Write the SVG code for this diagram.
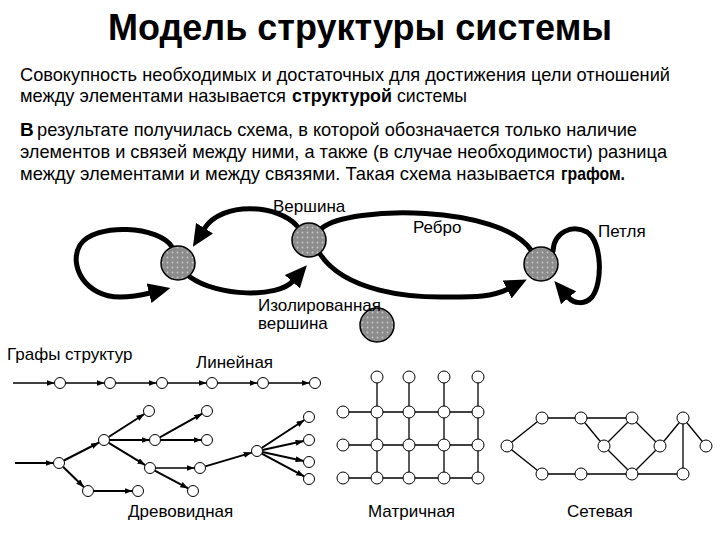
<svg xmlns="http://www.w3.org/2000/svg" width="720" height="540" viewBox="0 0 720 540">
<style>
.title{font-family:"Liberation Sans",Arial,sans-serif;font-weight:bold;font-size:36px;fill:#000}
.para{font-family:"Liberation Sans",Arial,sans-serif;font-size:19px;fill:#000}
.b{font-weight:bold}
.lbl{font-family:"Liberation Sans",Arial,sans-serif;font-size:17px;fill:#000}
.big{fill:url(#dots);stroke:#000;stroke-width:1.5}
.edge{fill:none;stroke:#000;stroke-width:5;stroke-linecap:round}
.tree{fill:none;stroke:#000;stroke-width:2}
.sm{fill:#fff;stroke:#000;stroke-width:1}
.ln{stroke:#000;stroke-width:1.3;fill:none}
</style>
<defs>
<pattern id="dots" width="5" height="5" patternUnits="userSpaceOnUse">
<rect width="5" height="5" fill="#8c8c8c"/>
<circle cx="2.5" cy="2.5" r="0.9" fill="#c8c8c8"/>
</pattern>
<marker id="bigArrow" viewBox="0 0 22 20" refX="1" refY="10" markerWidth="22" markerHeight="20" markerUnits="userSpaceOnUse" orient="auto">
<path d="M0,0 L22,10 L0,20 z" fill="#000"/>
</marker>
<marker id="smArrow" viewBox="0 0 8 6" refX="8" refY="3" markerWidth="8" markerHeight="6" markerUnits="userSpaceOnUse" orient="auto">
<path d="M0,0 L8,3 L0,6 z" fill="#000"/>
</marker>
</defs>
<rect width="720" height="540" fill="#fff"/>

<text class="title" x="360" y="40" text-anchor="middle" textLength="504" lengthAdjust="spacingAndGlyphs">Модель структуры системы</text>

<text class="para" x="20" y="81" textLength="650" lengthAdjust="spacingAndGlyphs">Совокупность необходимых и достаточных для достижения цели отношений</text>
<text class="para" x="20" y="102" textLength="266" lengthAdjust="spacingAndGlyphs">между элементами называется</text>
<text class="para b" x="292" y="102" textLength="100" lengthAdjust="spacingAndGlyphs">структурой</text>
<text class="para" x="397" y="102" textLength="70" lengthAdjust="spacingAndGlyphs">системы</text>
<text class="para b" x="20" y="136">В</text>
<text class="para" x="37" y="136" textLength="600" lengthAdjust="spacingAndGlyphs">результате получилась схема, в которой обозначается только наличие</text>
<text class="para" x="20" y="158" textLength="647" lengthAdjust="spacingAndGlyphs">элементов и связей между ними, а также (в случае необходимости) разница</text>
<text class="para" x="20" y="180" style="font-size:18.2px" textLength="535" lengthAdjust="spacingAndGlyphs">между элементами и между связями. Такая схема называется</text>
<text class="para b" x="561" y="180" textLength="64" lengthAdjust="spacingAndGlyphs">графом.</text>

<g id="connectors">
<g id="top-edges">
<path class="edge" d="M172,247 C160,226 95,222 80,245 C68,265 85,297 120,297 C132,297 142,295 150,293" marker-end="url(#bigArrow)"/>
<path class="edge" d="M297,226 C280,205 222,200 204,229" marker-end="url(#bigArrow)"/>
<path class="edge" d="M190,277 C218,297 278,298 293,281" marker-end="url(#bigArrow)"/>
<path class="edge" d="M322,228 C350,205 500,205 531,250"/>
<path class="edge" d="M320,254 C345,292 410,298 450,297 C475,297 492,297 508,289" marker-end="url(#bigArrow)"/>
<path class="edge" d="M553,251 C554,232 572,224 587,232 C602,242 603,283 592,297 C585,305 574,304 568,297" marker-end="url(#bigArrow)"/>
</g>
<g id="linear-edges">
<line class="ln" x1="13" y1="383" x2="54.5" y2="383" marker-end="url(#smArrow)"/>
<line class="ln" x1="65.5" y1="383" x2="104.5" y2="383" marker-end="url(#smArrow)"/>
<line class="ln" x1="115.5" y1="383" x2="156.5" y2="383" marker-end="url(#smArrow)"/>
<line class="ln" x1="167.5" y1="383" x2="206.5" y2="383" marker-end="url(#smArrow)"/>
<line class="ln" x1="217.5" y1="383" x2="257.5" y2="383" marker-end="url(#smArrow)"/>
<line class="ln" x1="268.5" y1="383" x2="309.5" y2="383" marker-end="url(#smArrow)"/>
</g>
<g id="tree-edges">
<line class="tree" x1="15" y1="463" x2="53.5" y2="463" marker-end="url(#smArrow)"/>
<line class="tree" x1="63.9" y1="460.5" x2="99.1" y2="442.5" marker-end="url(#smArrow)"/>
<line class="tree" x1="63" y1="466.8" x2="84" y2="487.2" marker-end="url(#smArrow)"/>
<line class="tree" x1="93.5" y1="491" x2="132.5" y2="491" marker-end="url(#smArrow)"/>
<line class="tree" x1="108.6" y1="437" x2="144.4" y2="414" marker-end="url(#smArrow)"/>
<line class="tree" x1="109.5" y1="440" x2="149.5" y2="440" marker-end="url(#smArrow)"/>
<line class="tree" x1="108.7" y1="442.9" x2="145.3" y2="465.1" marker-end="url(#smArrow)"/>
<line class="tree" x1="159.8" y1="437.3" x2="202.2" y2="413.7" marker-end="url(#smArrow)"/>
<line class="tree" x1="160.5" y1="440" x2="201.5" y2="440" marker-end="url(#smArrow)"/>
<line class="ln" x1="155.5" y1="468" x2="194.5" y2="468" marker-end="url(#smArrow)"/>
<line class="tree" x1="154.8" y1="470.6" x2="188.2" y2="488.4" marker-end="url(#smArrow)"/>
<line class="tree" x1="205.3" y1="466.4" x2="251.7" y2="452.6" marker-end="url(#smArrow)"/>
<line class="tree" x1="261.6" y1="448" x2="304.4" y2="420" marker-end="url(#smArrow)"/>
<line class="tree" x1="262.4" y1="449.9" x2="303.6" y2="441.1" marker-end="url(#smArrow)"/>
<line class="tree" x1="262.4" y1="452.1" x2="303.6" y2="460.9" marker-end="url(#smArrow)"/>
<line class="tree" x1="261.8" y1="453.6" x2="304.2" y2="476.4" marker-end="url(#smArrow)"/>
</g>
<g id="matrix-edges">
<line class="ln" x1="343" y1="412" x2="478" y2="412"/>
<line class="ln" x1="343" y1="445" x2="478" y2="445"/>
<line class="ln" x1="343" y1="478" x2="478" y2="478"/>
<line class="ln" x1="377" y1="377" x2="377" y2="478"/>
<line class="ln" x1="409" y1="377" x2="409" y2="478"/>
<line class="ln" x1="444" y1="377" x2="444" y2="478"/>
<line class="ln" x1="478" y1="377" x2="478" y2="478"/>
</g>
<g id="network-edges">
<line class="ln" x1="507" y1="446" x2="542" y2="418"/>
<line class="ln" x1="507" y1="446" x2="542" y2="474"/>
<line class="ln" x1="542" y1="418" x2="581" y2="418"/>
<line class="ln" x1="581" y1="418" x2="632" y2="418"/>
<line class="ln" x1="581" y1="418" x2="604" y2="446"/>
<line class="ln" x1="632" y1="418" x2="604" y2="446"/>
<line class="ln" x1="632" y1="418" x2="660" y2="446"/>
<line class="ln" x1="604" y1="446" x2="632" y2="474"/>
<line class="ln" x1="660" y1="446" x2="632" y2="474"/>
<line class="ln" x1="660" y1="446" x2="683" y2="418"/>
<line class="ln" x1="683" y1="418" x2="706" y2="446"/>
<line class="ln" x1="683" y1="418" x2="683" y2="474"/>
<line class="ln" x1="542" y1="474" x2="581" y2="474"/>
<line class="ln" x1="581" y1="474" x2="632" y2="474"/>
<line class="ln" x1="632" y1="474" x2="683" y2="474"/>
</g>
</g>

<g id="node-A"><circle class="big" cx="178" cy="263" r="17"/></g>
<g id="node-B"><circle class="big" cx="309" cy="240" r="17"/><text class="lbl" x="273" y="212">Вершина</text></g>
<g id="node-C"><circle class="big" cx="541" cy="264" r="17"/></g>
<g id="node-isolated"><circle class="big" cx="377" cy="325" r="17"/><text class="lbl" x="258" y="311">Изолированная</text><text class="lbl" x="258" y="329">вершина</text></g>
<g id="label-edge"><text class="lbl" x="413" y="233">Ребро</text></g>
<g id="label-loop"><text class="lbl" x="598" y="237">Петля</text></g>

<g id="label-graphs"><text class="lbl" x="7" y="360">Графы структур</text></g>

<g id="linear">
<text class="lbl" x="196" y="368">Линейная</text>
<circle class="sm" cx="60" cy="383" r="5.5"/>
<circle class="sm" cx="110" cy="383" r="5.5"/>
<circle class="sm" cx="162" cy="383" r="5.5"/>
<circle class="sm" cx="212" cy="383" r="5.5"/>
<circle class="sm" cx="263" cy="383" r="5.5"/>
<circle class="sm" cx="315" cy="383" r="5.5"/>
</g>

<g id="tree">
<text class="lbl" x="128" y="517">Древовидная</text>
<circle class="sm" cx="59" cy="463" r="5.5"/>
<circle class="sm" cx="104" cy="440" r="5.5"/>
<circle class="sm" cx="88" cy="491" r="5.5"/>
<circle class="sm" cx="138" cy="491" r="5.5"/>
<circle class="sm" cx="149" cy="411" r="5.5"/>
<circle class="sm" cx="155" cy="440" r="5.5"/>
<circle class="sm" cx="150" cy="468" r="5.5"/>
<circle class="sm" cx="207" cy="411" r="5.5"/>
<circle class="sm" cx="207" cy="440" r="5.5"/>
<circle class="sm" cx="200" cy="468" r="5.5"/>
<circle class="sm" cx="193" cy="491" r="5.5"/>
<circle class="sm" cx="257" cy="451" r="5.5"/>
<circle class="sm" cx="309" cy="417" r="5.5"/>
<circle class="sm" cx="309" cy="440" r="5.5"/>
<circle class="sm" cx="309" cy="462" r="5.5"/>
<circle class="sm" cx="309" cy="479" r="5.5"/>
</g>

<g id="matrix">
<text class="lbl" x="368" y="517">Матричная</text>
<circle class="sm" cx="377" cy="377" r="6"/>
<circle class="sm" cx="409" cy="377" r="6"/>
<circle class="sm" cx="444" cy="377" r="6"/>
<circle class="sm" cx="478" cy="377" r="6"/>
<circle class="sm" cx="343" cy="412" r="6"/>
<circle class="sm" cx="377" cy="412" r="6"/>
<circle class="sm" cx="409" cy="412" r="6"/>
<circle class="sm" cx="444" cy="412" r="6"/>
<circle class="sm" cx="478" cy="412" r="6"/>
<circle class="sm" cx="343" cy="445" r="6"/>
<circle class="sm" cx="377" cy="445" r="6"/>
<circle class="sm" cx="409" cy="445" r="6"/>
<circle class="sm" cx="444" cy="445" r="6"/>
<circle class="sm" cx="478" cy="445" r="6"/>
<circle class="sm" cx="343" cy="478" r="6"/>
<circle class="sm" cx="377" cy="478" r="6"/>
<circle class="sm" cx="409" cy="478" r="6"/>
<circle class="sm" cx="444" cy="478" r="6"/>
<circle class="sm" cx="478" cy="478" r="6"/>
</g>

<g id="network">
<text class="lbl" x="567" y="517">Сетевая</text>
<circle class="sm" cx="507" cy="446" r="6"/>
<circle class="sm" cx="542" cy="418" r="6"/>
<circle class="sm" cx="581" cy="418" r="6"/>
<circle class="sm" cx="632" cy="418" r="6"/>
<circle class="sm" cx="604" cy="446" r="6"/>
<circle class="sm" cx="660" cy="446" r="6"/>
<circle class="sm" cx="683" cy="418" r="6"/>
<circle class="sm" cx="706" cy="446" r="6"/>
<circle class="sm" cx="542" cy="474" r="6"/>
<circle class="sm" cx="581" cy="474" r="6"/>
<circle class="sm" cx="632" cy="474" r="6"/>
<circle class="sm" cx="683" cy="474" r="6"/>
</g>
</svg>
